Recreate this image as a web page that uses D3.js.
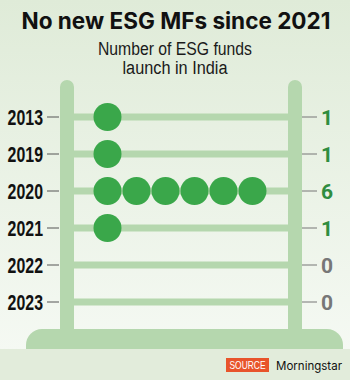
<!DOCTYPE html>
<html><head><meta charset="utf-8">
<script src="https://cdn.jsdelivr.net/npm/d3@7"></script>
<style>
html,body{margin:0;padding:0;background:#e2ecdb;}
svg{display:block;}
</style></head>
<body>
<svg id="c" width="350" height="380"></svg>
<script>
const years = ["2013","2019","2020","2021","2022","2023"];
const funds = [1,1,6,1,0,0];
const title = "No new ESG MFs since 2021";
const subtitle = ["Number of ESG funds","launch in India"];
const sourceLabel = "SOURCE";
const sourceText = "Morningstar";

const svg = d3.select("#c");
const defs = svg.append("defs");
const g = defs.append("linearGradient").attr("id","bg").attr("x1",0).attr("y1",0).attr("x2",0).attr("y2",1);
g.append("stop").attr("offset","0%").attr("stop-color","#dfebd8");
g.append("stop").attr("offset","100%").attr("stop-color","#f5f9f3");
svg.append("rect").attr("width",350).attr("height",350).attr("fill","url(#bg)");
svg.append("rect").attr("y",349).attr("width",350).attr("height",31).attr("fill","#e2ecdb");

svg.append("text").attr("x",176).attr("y",29).attr("text-anchor","middle")
  .attr("font-family","Inter, 'Open Sans', sans-serif").attr("font-weight",700)
  .attr("font-size",22.5).attr("fill","#111").attr("textLength",309).attr("lengthAdjust","spacingAndGlyphs").text(title);
const subLen = [154,105];
subtitle.forEach((s,i)=>{
  svg.append("text").attr("x",175).attr("y",55+i*19).attr("text-anchor","middle")
    .attr("font-family","'Liberation Sans','DejaVu Sans',sans-serif")
    .attr("font-size",18).attr("fill","#1a1a1a")
    .attr("textLength",subLen[i]).attr("lengthAdjust","spacingAndGlyphs").text(s);
});

const y = d3.scalePoint().domain(years).range([117,302]);
const x = d3.scaleLinear().domain([0,6]).range([93,267]);
const green = "#b5d7ae";

// pillars
[60,288].forEach(px=>{
  svg.append("rect").attr("x",px).attr("y",80).attr("width",14).attr("height",265)
    .attr("rx",7).attr("fill",green);
});
// base
svg.append("path").attr("d",(()=>{
  const p=d3.path(); const l=26,r=343,t=329,b=349,rr=16;
  p.moveTo(l,b); p.lineTo(l,t+rr); p.arcTo(l,t,l+rr,t,rr); p.lineTo(r-rr,t); p.arcTo(r,t,r,t+rr,rr); p.lineTo(r,b); p.closePath(); return p.toString();
})()).attr("fill",green);

// rods
svg.selectAll(".rod").data(years).join("rect")
  .attr("x",73).attr("y",d=>y(d)-3.5).attr("width",216).attr("height",7).attr("fill",green);

// ticks
svg.selectAll(".lt").data(years).join("line")
  .attr("x1",47).attr("x2",59).attr("y1",d=>y(d)).attr("y2",d=>y(d)).attr("stroke","#555").attr("stroke-width",1);
svg.selectAll(".rt").data(years).join("line")
  .attr("x1",302).attr("x2",317).attr("y1",d=>y(d)).attr("y2",d=>y(d)).attr("stroke","#777").attr("stroke-width",1);

// beads
const beads = [];
years.forEach((yr,i)=>{ for(let k=0;k<funds[i];k++) beads.push({yr,k}); });
svg.selectAll(".bead").data(beads).join("circle")
  .attr("cx",d=>x(d.k+0.5)).attr("cy",d=>y(d.yr)).attr("r",14).attr("fill","#3aa74a");

// year labels
svg.selectAll(".yl").data(years).join("text")
  .attr("transform",d=>`translate(43,${y(d)+8}) scale(0.74,1)`)
  .attr("text-anchor","end")
  .attr("font-family","'Liberation Sans','DejaVu Sans',sans-serif")
  .attr("font-weight",700).attr("font-size",21.5).attr("fill","#111").text(d=>d);

// value labels
svg.selectAll(".vl").data(years).join("text")
  .attr("x",321).attr("y",(d)=>y(d)+7.5)
  .attr("font-family","Roboto, 'Open Sans', sans-serif").attr("font-weight",700)
  .attr("font-size",21).attr("fill",(d,i)=>funds[i]>0?"#2f8d3f":"#777").text((d,i)=>funds[i]);

// source
svg.append("rect").attr("x",226).attr("y",358).attr("width",43).attr("height",14).attr("fill","#e8542b");
svg.append("text").attr("x",229.5).attr("y",369).
  attr("font-family","'Liberation Sans','DejaVu Sans',sans-serif").attr("font-size",10.5).attr("fill","#fff")
  .attr("textLength",36).attr("lengthAdjust","spacingAndGlyphs").text(sourceLabel);
svg.append("text").attr("x",276).attr("y",370).attr("font-family","Inter, 'Liberation Sans',sans-serif")
  .attr("font-size",11.5).attr("fill","#111").attr("textLength",66).attr("lengthAdjust","spacingAndGlyphs").text(sourceText);
</script>
</body></html>
